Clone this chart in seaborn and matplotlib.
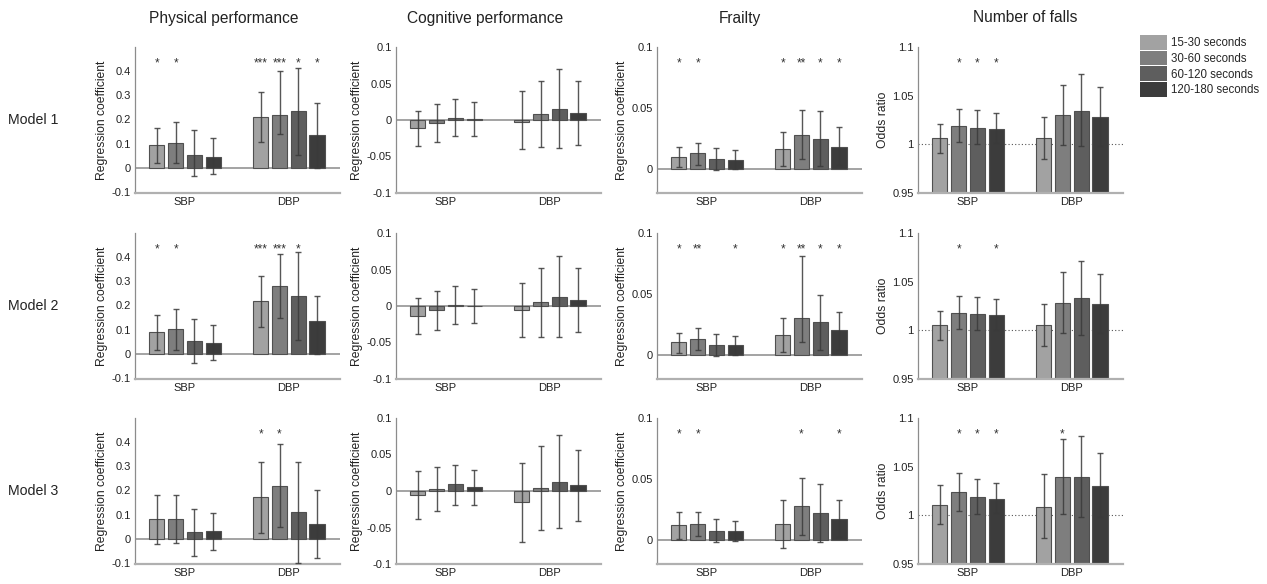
import numpy as np
import pandas as pd
import matplotlib
matplotlib.use("Agg")
import matplotlib.pyplot as plt
import matplotlib.transforms as mtrans
from matplotlib.patches import Patch
import seaborn as sns

sns.set_theme(style="white")
plt.rcParams["font.family"] = ["Liberation Sans", "DejaVu Sans"]
plt.rcParams["axes.unicode_minus"] = False

# ---------------- data ----------------
durations = ["15-30 seconds", "30-60 seconds", "60-120 seconds", "120-180 seconds"]
bp_types = ["SBP", "DBP"]
models = ["Model 1", "Model 2", "Model 3"]
measures = ["Physical performance", "Cognitive performance", "Frailty", "Number of falls"]
ylabels = ["Regression coefficient", "Regression coefficient", "Regression coefficient", "Odds ratio"]
colors = ["#a2a2a2", "#7e7e7e", "#5e5e5e", "#3c3c3c"]

# each row: SBP (4 durations) then DBP (4 durations); one row per model
phys_mean = [[0.092, 0.103, 0.054, 0.046, 0.211, 0.218, 0.235, 0.135],
             [0.089, 0.101, 0.053, 0.045, 0.218, 0.280, 0.240, 0.135],
             [0.080, 0.083, 0.028, 0.030, 0.172, 0.217, 0.110, 0.060]]
phys_lo = [[0.018, 0.018, -0.035, -0.028, 0.106, 0.139, 0.054, 0.000],
           [0.014, 0.014, -0.037, -0.028, 0.112, 0.146, 0.055, -0.003],
           [-0.022, -0.018, -0.070, -0.047, 0.024, 0.050, -0.100, -0.082]]
phys_hi = [[0.164, 0.188, 0.156, 0.122, 0.314, 0.401, 0.414, 0.268],
           [0.160, 0.183, 0.143, 0.120, 0.322, 0.415, 0.420, 0.237],
           [0.182, 0.182, 0.123, 0.106, 0.317, 0.392, 0.317, 0.202]]
phys_stars = [["*", "*", "", "", "***", "***", "*", "*"],
              ["*", "*", "", "", "***", "***", "*", ""],
              ["", "", "", "", "*", "*", "", ""]]

cog_mean = [[-0.011, -0.004, 0.003, 0.001, -0.003, 0.008, 0.015, 0.010],
            [-0.014, -0.006, 0.002, 0.0005, -0.005, 0.005, 0.012, 0.008],
            [-0.006, 0.003, 0.009, 0.005, -0.015, 0.004, 0.013, 0.008]]
cog_lo = [[-0.035, -0.030, -0.022, -0.022, -0.040, -0.037, -0.039, -0.034],
          [-0.038, -0.033, -0.024, -0.023, -0.043, -0.042, -0.043, -0.036],
          [-0.039, -0.028, -0.019, -0.019, -0.070, -0.053, -0.051, -0.041]]
cog_hi = [[0.013, 0.022, 0.029, 0.024, 0.040, 0.054, 0.070, 0.054],
          [0.011, 0.020, 0.028, 0.023, 0.032, 0.052, 0.068, 0.052],
          [0.027, 0.033, 0.036, 0.029, 0.038, 0.061, 0.077, 0.056]]
cog_stars = [[""] * 8, [""] * 8, [""] * 8]

frail_mean = [[0.0095, 0.0125, 0.008, 0.007, 0.016, 0.028, 0.024, 0.018],
              [0.010, 0.013, 0.008, 0.008, 0.016, 0.030, 0.027, 0.020],
              [0.012, 0.013, 0.007, 0.007, 0.013, 0.028, 0.022, 0.017]]
frail_lo = [[0.001, 0.003, -0.001, -0.0005, 0.002, 0.008, 0.002, 0.003],
            [0.0015, 0.004, -0.001, 0.000, 0.002, 0.010, 0.004, 0.004],
            [0.0005, 0.003, -0.002, -0.001, -0.007, 0.004, -0.002, 0.002]]
frail_hi = [[0.018, 0.021, 0.017, 0.015, 0.030, 0.048, 0.047, 0.034],
            [0.018, 0.022, 0.017, 0.015, 0.030, 0.081, 0.049, 0.035],
            [0.023, 0.023, 0.017, 0.015, 0.033, 0.051, 0.046, 0.033]]
frail_stars = [["*", "*", "", "", "*", "**", "*", "*"],
               ["*", "**", "", "*", "*", "**", "*", "*"],
               ["*", "*", "", "", "", "*", "", "*"]]

falls_mean = [[1.006, 1.019, 1.017, 1.016, 1.006, 1.030, 1.034, 1.028],
              [1.005, 1.018, 1.017, 1.016, 1.005, 1.028, 1.033, 1.027],
              [1.011, 1.024, 1.019, 1.017, 1.009, 1.039, 1.039, 1.030]]
falls_lo = [[0.991, 1.002, 1.000, 1.001, 0.985, 0.999, 0.998, 0.998],
            [0.990, 1.001, 1.000, 1.000, 0.984, 0.997, 0.995, 0.997],
            [0.991, 1.004, 1.001, 1.002, 0.977, 1.001, 0.998, 0.998]]
falls_hi = [[1.021, 1.036, 1.035, 1.032, 1.028, 1.061, 1.072, 1.059],
            [1.020, 1.035, 1.034, 1.032, 1.027, 1.060, 1.071, 1.058],
            [1.031, 1.044, 1.037, 1.033, 1.042, 1.078, 1.082, 1.064]]
falls_stars = [["", "*", "*", "*", "", "", "", ""],
               ["", "*", "", "*", "", "", "", ""],
               ["", "*", "*", "*", "", "*", "", ""]]

phys_ticks = [-0.1, 0, 0.1, 0.2, 0.3, 0.4]
cog_ticks = [-0.1, -0.05, 0, 0.05, 0.1]
frail_ticks = [0, 0.05, 0.1]
falls_ticks = [0.95, 1, 1.05, 1.1]

panel_data = [
    (phys_mean, phys_lo, phys_hi, phys_stars, phys_ticks, (-0.105, 0.5), 0.0),
    (cog_mean, cog_lo, cog_hi, cog_stars, cog_ticks, (-0.1, 0.1), 0.0),
    (frail_mean, frail_lo, frail_hi, frail_stars, frail_ticks, (-0.02, 0.1), 0.0),
    (falls_mean, falls_lo, falls_hi, falls_stars, falls_ticks, (0.95, 1.1), 1.0),
]

# ---------------- layout ----------------
W, H = 1267, 584
fig = plt.figure(figsize=(W / 100, H / 100), dpi=100)
col_left = [135, 396, 657, 918]
row_top = [47, 233, 418]
ax_w, ax_h = 205, 146
title_x = [224, 485, 740, 1025]

spine_c = "#8c8c8c"
err_c = "#3a3a3a"

for r in range(3):
    for c in range(4):
        mean, lo, hi, stars, ticks, ylim, ref = panel_data[c]
        ax = fig.add_axes([col_left[c] / W, 1 - (row_top[r] + ax_h) / H, ax_w / W, ax_h / H])
        m = np.array(mean[r])
        df = pd.DataFrame({
            "bp": np.repeat(bp_types, 4),
            "duration": durations * 2,
            "value": m,
        })
        sns.barplot(data=df, x="bp", y="value", hue="duration", order=bp_types,
                    hue_order=durations, palette=colors, width=0.725, gap=0.18,
                    errorbar=None, edgecolor="#505050", linewidth=0.8,
                    legend=False, ax=ax, zorder=2)
        pats = sorted(ax.patches, key=lambda p: p.get_x())
        xs = np.array([p.get_x() + p.get_width() / 2 for p in pats])
        l = np.array(lo[r]); h = np.array(hi[r])
        ax.errorbar(xs, m, yerr=[m - l, h - m], fmt="none", ecolor=err_c,
                    elinewidth=1.0, capsize=2.2, capthick=1.0, alpha=0.85, zorder=3)
        # reference line
        if c < 3:
            ax.axhline(ref, color="#8a8a8a", lw=1.1, zorder=1.5)
        else:
            ax.axhline(ref, color="#555555", lw=0.8, ls=(0, (1, 2)), zorder=1.5)
        # significance stars
        tr = mtrans.blended_transform_factory(ax.transData, ax.transAxes)
        for x, s in zip(xs, stars[r]):
            if s:
                ax.text(x, 0.867, s, transform=tr, ha="center", va="baseline",
                        fontsize=8.5, color="#333333")
        ax.set_xlim(-0.481, 1.491)
        ax.set_ylim(*ylim)
        ax.set_yticks(ticks)
        ax.set_yticklabels([f"{t:g}" for t in ticks])
        ax.set_xlabel("")
        ax.set_ylabel(ylabels[c], fontsize=8.7, color="#222222", labelpad=2.5)
        ax.tick_params(axis="both", direction="in", length=3, width=0.8,
                       labelsize=8, colors="#222222", pad=3)
        ax.tick_params(axis="both", color=spine_c)
        for side in ["top", "right"]:
            ax.spines[side].set_visible(False)
        ax.spines["left"].set_color(spine_c)
        ax.spines["left"].set_linewidth(0.9)
        ax.spines["bottom"].set_color("#b0b0b0")
        ax.spines["bottom"].set_linewidth(1.6)
        ax.set_facecolor("white")

# column titles
for c, t in enumerate(measures):
    fig.text(title_x[c] / W, 1 - 18 / H, t, ha="center", va="center",
             fontsize=11.2, color="#222222")

# row labels
for r, t in enumerate(models):
    fig.text(8 / W, 1 - (row_top[r] + ax_h / 2) / H, t, ha="left", va="center",
             fontsize=10.2, color="#222222")

# legend
handles = [Patch(facecolor=col, edgecolor="none") for col in colors]
fig.legend(handles, durations, loc="upper left", bbox_to_anchor=(1140 / W, 1 - 35 / H),
           frameon=False, fontsize=8.3, handlelength=2.35, handleheight=1.57,
           labelspacing=0.1, handletextpad=0.3, borderaxespad=0, borderpad=0)

fig.savefig("out.png", dpi=100, facecolor="white")
